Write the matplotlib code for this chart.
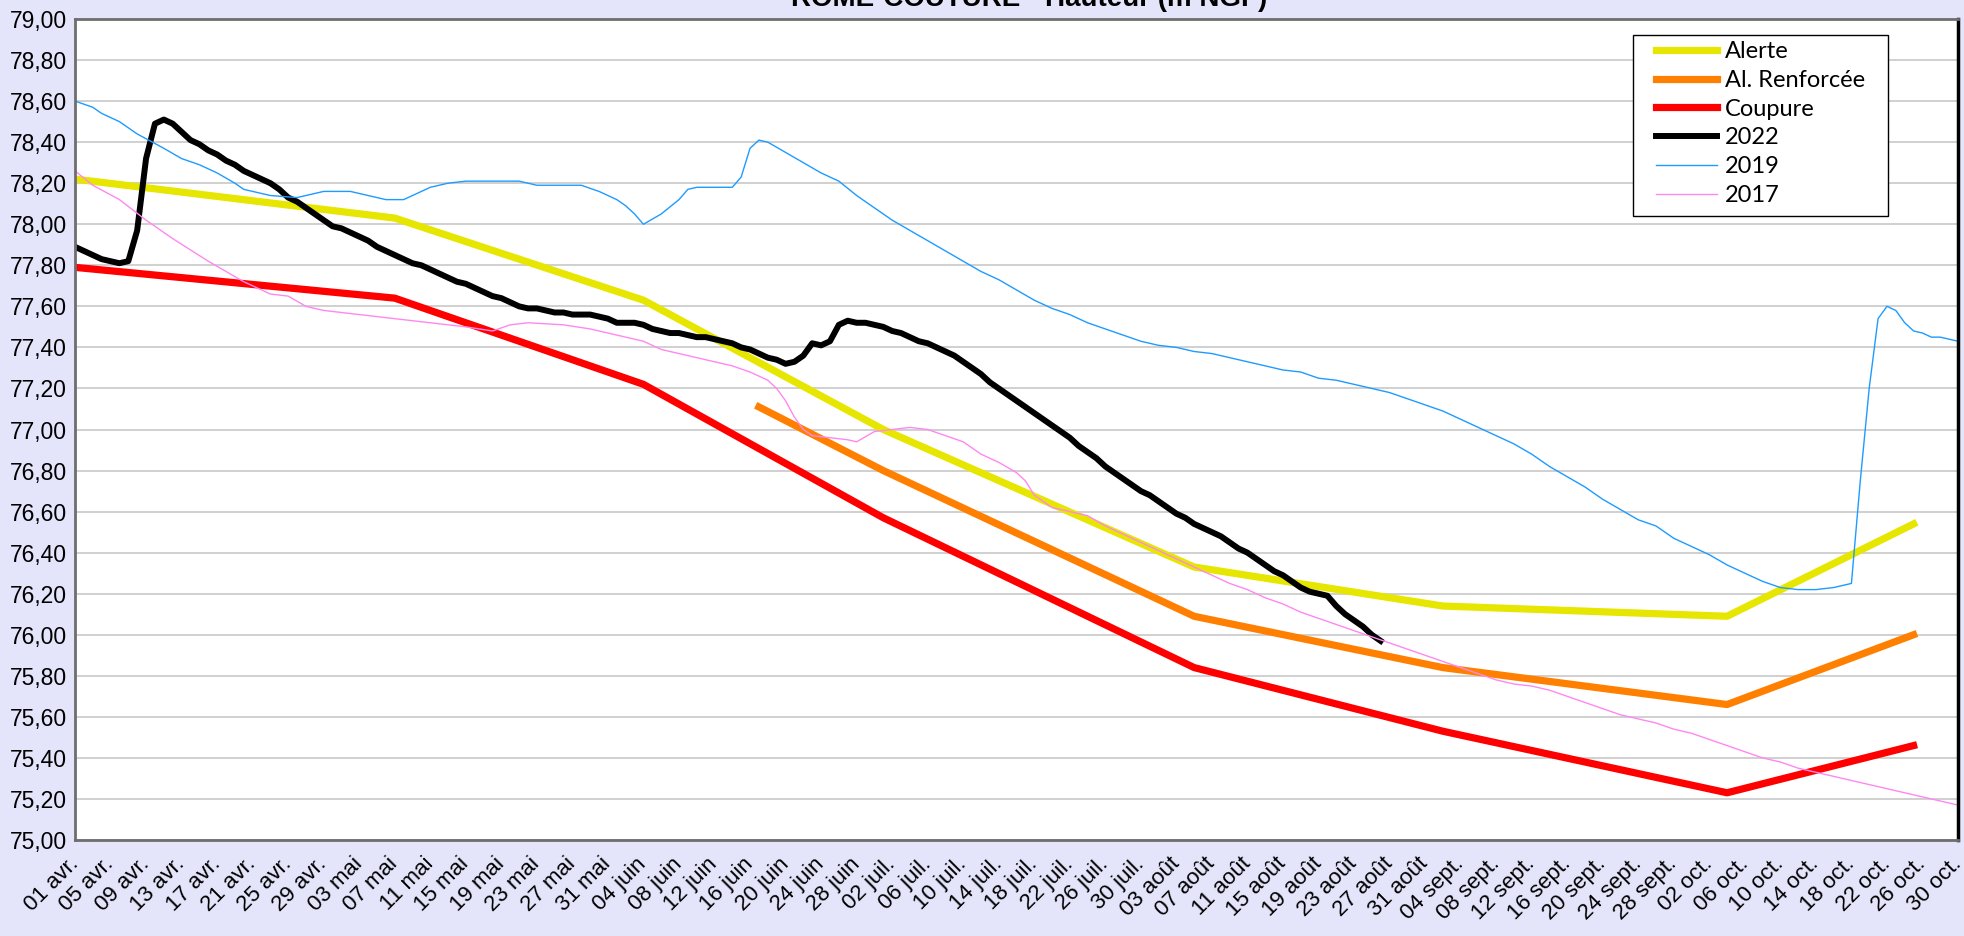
import matplotlib
matplotlib.use("Agg")
import matplotlib.pyplot as plt
from matplotlib.patches import Rectangle
from matplotlib.ticker import FixedLocator, FuncFormatter

# ---------------- data ----------------
title_text = "ROME-COUTURE - Hauteur (m NGF)"

tick_days = list(range(0, 213, 4))
tick_labels = [
    "01 avr.", "05 avr.", "09 avr.", "13 avr.", "17 avr.", "21 avr.", "25 avr.", "29 avr.",
    "03 mai", "07 mai", "11 mai", "15 mai", "19 mai", "23 mai", "27 mai", "31 mai",
    "04 juin", "08 juin", "12 juin", "16 juin", "20 juin", "24 juin", "28 juin",
    "02 juil.", "06 juil.", "10 juil.", "14 juil.", "18 juil.", "22 juil.", "26 juil.", "30 juil.",
    "03 août", "07 août", "11 août", "15 août", "19 août", "23 août", "27 août", "31 août",
    "04 sept.", "08 sept.", "12 sept.", "16 sept.", "20 sept.", "24 sept.", "28 sept.",
    "02 oct.", "06 oct.", "10 oct.", "14 oct.", "18 oct.", "22 oct.", "26 oct.", "30 oct.",
]

# thresholds (day index from 01 avr.)
alerte_days = [0, 36, 64, 91, 126, 154, 186, 207]
alerte_vals = [78.22, 78.03, 77.63, 77.00, 76.33, 76.14, 76.09, 76.54]

renf_days = [77, 91, 126, 154, 186, 207]
renf_vals = [77.11, 76.80, 76.09, 75.84, 75.66, 76.00]

coupure_days = [0, 36, 64, 91, 126, 154, 186, 207]
coupure_vals = [77.79, 77.64, 77.22, 76.57, 75.84, 75.53, 75.23, 75.46]

# 2022 daily readings
y2022_days = list(range(148))
y2022_vals = [
    77.89, 77.87, 77.85, 77.83, 77.82, 77.81, 77.82, 77.97, 78.32, 78.49,
    78.51, 78.49, 78.45, 78.41, 78.39, 78.36, 78.34, 78.31, 78.29, 78.26,
    78.24, 78.22, 78.20, 78.17, 78.13, 78.11, 78.08, 78.05, 78.02, 77.99,
    77.98, 77.96, 77.94, 77.92, 77.89, 77.87, 77.85, 77.83, 77.81, 77.80,
    77.78, 77.76, 77.74, 77.72, 77.71, 77.69, 77.67, 77.65, 77.64, 77.62,
    77.60, 77.59, 77.59, 77.58, 77.57, 77.57, 77.56, 77.56, 77.56, 77.55,
    77.54, 77.52, 77.52, 77.52, 77.51, 77.49, 77.48, 77.47, 77.47, 77.46,
    77.45, 77.45, 77.44, 77.43, 77.42, 77.40, 77.39, 77.37, 77.35, 77.34,
    77.32, 77.33, 77.36, 77.42, 77.41, 77.43, 77.51, 77.53, 77.52, 77.52,
    77.51, 77.50, 77.48, 77.47, 77.45, 77.43, 77.42, 77.40, 77.38, 77.36,
    77.33, 77.30, 77.27, 77.23, 77.20, 77.17, 77.14, 77.11, 77.08, 77.05,
    77.02, 76.99, 76.96, 76.92, 76.89, 76.86, 76.82, 76.79, 76.76, 76.73,
    76.70, 76.68, 76.65, 76.62, 76.59, 76.57, 76.54, 76.52, 76.50, 76.48,
    76.45, 76.42, 76.40, 76.37, 76.34, 76.31, 76.29, 76.26, 76.23, 76.21,
    76.20, 76.19, 76.14, 76.10, 76.07, 76.04, 76.00, 75.97,
]

# 2019 readings
y2019_days = [0, 2, 3, 5, 7, 10, 12, 14, 16, 18, 19, 22, 25, 28, 31, 35, 37, 40, 42, 44,
              50, 52, 57, 59, 61, 62, 63, 64, 66, 68, 69, 70, 72, 74, 75, 76, 77, 78, 80, 82,
              84, 86, 88, 90, 92, 94, 96, 98, 100, 102, 104, 106, 108, 110, 112, 114, 116, 118, 120, 122,
              124, 126, 128, 130, 132, 134, 136, 138, 140, 142, 144, 146, 148, 150, 152, 154, 156, 158, 160, 162,
              164, 166, 168, 170, 172, 174, 176, 178, 180, 182, 184, 186, 188, 190, 192, 194, 196, 198, 199, 200,
              201, 202, 203, 204, 205, 206, 207, 208, 209, 210, 211, 212]
y2019_vals = [78.60, 78.57, 78.54, 78.50, 78.44, 78.37, 78.32, 78.29, 78.25, 78.20, 78.17, 78.14, 78.13, 78.16, 78.16, 78.12, 78.12, 78.18, 78.20, 78.21,
              78.21, 78.19, 78.19, 78.16, 78.12, 78.09, 78.05, 78.00, 78.05, 78.12, 78.17, 78.18, 78.18, 78.18, 78.23, 78.37, 78.41, 78.40, 78.35, 78.30,
              78.25, 78.21, 78.14, 78.08, 78.02, 77.97, 77.92, 77.87, 77.82, 77.77, 77.73, 77.68, 77.63, 77.59, 77.56, 77.52, 77.49, 77.46, 77.43, 77.41,
              77.40, 77.38, 77.37, 77.35, 77.33, 77.31, 77.29, 77.28, 77.25, 77.24, 77.22, 77.20, 77.18, 77.15, 77.12, 77.09, 77.05, 77.01, 76.97, 76.93,
              76.88, 76.82, 76.77, 76.72, 76.66, 76.61, 76.56, 76.53, 76.47, 76.43, 76.39, 76.34, 76.30, 76.26, 76.23, 76.22, 76.22, 76.23, 76.24, 76.25,
              76.75, 77.20, 77.54, 77.60, 77.58, 77.52, 77.48, 77.47, 77.45, 77.45, 77.44, 77.43]

# 2017 readings
y2017_days = [0, 2, 5, 8, 11, 15, 17, 19, 22, 24, 26, 28, 32, 36, 40, 44, 47, 49, 51, 55,
              58, 60, 62, 64, 66, 68, 70, 72, 74, 76, 78, 79, 80, 81, 82, 83, 85, 87, 88, 90,
              92, 94, 96, 98, 100, 102, 104, 106, 107, 108, 110, 112, 114, 116, 118, 120, 122, 124, 126, 128,
              130, 132, 134, 136, 138, 140, 142, 144, 146, 148, 150, 152, 154, 156, 158, 160, 162, 164, 166, 168,
              170, 172, 174, 176, 178, 180, 182, 184, 186, 188, 190, 192, 194, 196, 198, 200, 202, 204, 206, 208,
              210, 212]
y2017_vals = [78.26, 78.19, 78.12, 78.02, 77.93, 77.82, 77.77, 77.72, 77.66, 77.65, 77.60, 77.58, 77.56, 77.54, 77.52, 77.50, 77.48, 77.51, 77.52, 77.51,
              77.49, 77.47, 77.45, 77.43, 77.39, 77.37, 77.35, 77.33, 77.31, 77.28, 77.24, 77.20, 77.14, 77.06, 77.00, 76.97, 76.96, 76.95, 76.94, 76.99,
              77.00, 77.01, 77.00, 76.97, 76.94, 76.88, 76.84, 76.79, 76.75, 76.68, 76.62, 76.60, 76.58, 76.53, 76.49, 76.45, 76.41, 76.37, 76.33, 76.29,
              76.25, 76.22, 76.18, 76.15, 76.11, 76.08, 76.05, 76.02, 75.99, 75.96, 75.93, 75.90, 75.87, 75.84, 75.81, 75.78, 75.76, 75.75, 75.73, 75.70,
              75.67, 75.64, 75.61, 75.59, 75.57, 75.54, 75.52, 75.49, 75.46, 75.43, 75.40, 75.38, 75.35, 75.33, 75.31, 75.29, 75.27, 75.25, 75.23, 75.21,
              75.19, 75.17]

y_ticks = [75.0 + 0.2 * i for i in range(21)]

# ---------------- figure ----------------
W, H = 1965, 936
fig = plt.figure(figsize=(W / 100, H / 100), dpi=100, facecolor="#E4E4FA")
L, R, T, B = 75, 1958, 19, 840
ax = fig.add_axes([L / W, 1 - B / H, (R - L) / W, (B - T) / H])
ax.set_facecolor("white")

ax.plot(alerte_days, alerte_vals, color="#E6E600", lw=5.2, label="Alerte")
ax.plot(renf_days, renf_vals, color="#FF7F00", lw=5.2, label="Al. Renforcée")
ax.plot(coupure_days, coupure_vals, color="#FF0000", lw=5.2, label="Coupure")
ax.plot(y2022_days, y2022_vals, color="black", lw=4.3, label="2022")
ax.plot(y2019_days, y2019_vals, color="#1E9BFF", lw=1.0, label="2019")
ax.plot(y2017_days, y2017_vals, color="#FF88F0", lw=1.0, label="2017")

ax.set_xlim(0, 212)
ax.set_ylim(75, 79)
ax.yaxis.set_major_locator(FixedLocator(y_ticks))
ax.yaxis.set_major_formatter(FuncFormatter(lambda v, p: f"{v:.2f}".replace(".", ",")))
ax.grid(axis="y", color="#C8C8C8", lw=1.2)
ax.set_axisbelow(True)

ax.set_xticks(tick_days)
ax.set_xticklabels(tick_labels, rotation=45, ha="right", va="center", rotation_mode="anchor")
for lab in ax.get_xticklabels():
    lab.set_fontfamily("Liberation Sans")
    lab.set_fontsize(16)
for lab in ax.get_yticklabels():
    lab.set_fontfamily("Liberation Sans")
    lab.set_fontsize(16.5)
ax.tick_params(axis="x", length=0, pad=15)
ax.tick_params(axis="y", length=0, pad=6)

for side in ["left", "bottom", "top"]:
    ax.spines[side].set_color("#6E6E6E")
    ax.spines[side].set_linewidth(2.0)
ax.spines["right"].set_color("black")
ax.spines["right"].set_linewidth(2.5)

# legend frame drawn as a separate box (figure pixel coordinates)
frame = Rectangle((1633 / W, 1 - 216 / H), (1888 - 1633) / W, (216 - 35) / H,
                  transform=fig.transFigure, facecolor="white", edgecolor="black",
                  lw=1.0, zorder=6, clip_on=False)
ax.add_patch(frame)
leg = ax.legend(loc="upper left", bbox_to_anchor=(1656 / W, 1 - 41 / H),
                bbox_transform=fig.transFigure,
                borderaxespad=0, frameon=False,
                prop={"family": "Lato", "size": 17}, handlelength=2.58, handletextpad=0.34,
                labelspacing=0.33, borderpad=0)
leg.set_zorder(7)

fig.text(1029 / W, 1 - 6 / H, title_text, ha="center", va="baseline",
         fontsize=20, fontweight="bold", family="Liberation Sans")

fig.savefig("out.png", dpi=100, facecolor=fig.get_facecolor())
